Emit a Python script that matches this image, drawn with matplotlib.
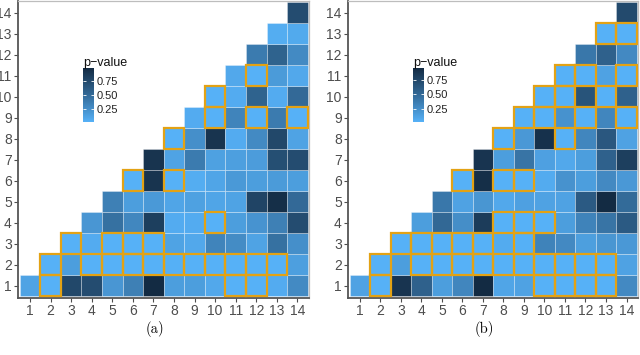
import matplotlib.pyplot as plt
from matplotlib.colors import LinearSegmentedColormap, Normalize
from matplotlib.patches import Rectangle
import matplotlib.cm as cm

plt.rcParams['font.family'] = ['Liberation Sans', 'DejaVu Sans']

ticks = list(range(1, 15))
cbar_ticks = [0.25, 0.50, 0.75]
cbar_labels = ['0.25', '0.50', '0.75']

# p-values, one list per row y = 1..14, columns x = y..14
pval_a = [
    [0.12, 0.02, 0.75, 0.72, 0.20, 0.35, 0.97, 0.15, 0.15, 0.08, 0.02, 0.02, 0.06, 0.28],
    [0.02, 0.15, 0.02, 0.02, 0.02, 0.02, 0.03, 0.02, 0.02, 0.02, 0.02, 0.02, 0.14],
    [0.02, 0.06, 0.02, 0.02, 0.02, 0.12, 0.08, 0.32, 0.27, 0.12, 0.45, 0.25],
    [0.20, 0.45, 0.30, 0.82, 0.06, 0.06, 0.02, 0.15, 0.22, 0.35, 0.72],
    [0.35, 0.15, 0.18, 0.10, 0.13, 0.10, 0.12, 0.78, 0.94, 0.50],
    [0.02, 0.90, 0.02, 0.05, 0.10, 0.18, 0.15, 0.17, 0.15],
    [0.90, 0.12, 0.38, 0.13, 0.14, 0.16, 0.70, 0.72],
    [0.02, 0.25, 0.90, 0.06, 0.28, 0.75, 0.12],
    [0.06, 0.02, 0.32, 0.02, 0.38, 0.02],
    [0.02, 0.06, 0.55, 0.06, 0.50],
    [0.08, 0.02, 0.17, 0.08],
    [0.38, 0.55, 0.28],
    [0.05, 0.07],
    [0.72],
]
# highlighted cells: x values per row
sig_a = [
    [2, 11, 12],
    [2, 4, 5, 6, 7, 8, 9, 10, 11, 12, 13],
    [3, 5, 6, 7],
    [10],
    [],
    [6, 8],
    [],
    [8],
    [10, 12, 14],
    [10],
    [12],
    [],
    [],
    [],
]

pval_b = [
    [0.12, 0.02, 0.88, 0.55, 0.15, 0.30, 0.95, 0.10, 0.12, 0.02, 0.02, 0.02, 0.02, 0.28],
    [0.02, 0.15, 0.02, 0.02, 0.02, 0.02, 0.02, 0.02, 0.02, 0.02, 0.02, 0.02, 0.12],
    [0.02, 0.02, 0.02, 0.02, 0.02, 0.06, 0.03, 0.32, 0.28, 0.14, 0.20, 0.18],
    [0.15, 0.50, 0.25, 0.82, 0.02, 0.02, 0.02, 0.15, 0.32, 0.42, 0.60],
    [0.40, 0.12, 0.20, 0.08, 0.13, 0.12, 0.12, 0.60, 0.95, 0.48],
    [0.02, 0.92, 0.02, 0.02, 0.06, 0.22, 0.15, 0.28, 0.18],
    [0.88, 0.15, 0.42, 0.13, 0.08, 0.15, 0.55, 0.80],
    [0.02, 0.18, 0.90, 0.02, 0.30, 0.62, 0.12],
    [0.02, 0.02, 0.22, 0.02, 0.30, 0.02],
    [0.02, 0.02, 0.65, 0.02, 0.55],
    [0.02, 0.02, 0.12, 0.02],
    [0.40, 0.55, 0.28],
    [0.02, 0.02],
    [0.72],
]
sig_b = [
    [2, 10, 11, 12, 13],
    [2, 4, 5, 6, 7, 8, 9, 10, 11, 12, 13],
    [3, 4, 5, 6, 7, 9],
    [8, 9, 10],
    [],
    [6, 8, 9],
    [],
    [8, 11],
    [9, 10, 12, 14],
    [10, 11, 13],
    [11, 12, 14],
    [],
    [13, 14],
    [],
]

cmap = LinearSegmentedColormap.from_list('pv', ['#56B1F7', '#336A98', '#132B43'])
W, H = 640, 355


def draw_panel(fig, left, right, cbar_left, pvals, sig, label, label_x):
    top, bottom = 1, 297.7
    ax = fig.add_axes([left / W, 1 - bottom / H, (right - left) / W, (bottom - top) / H])
    vmin = min(min(r) for r in pvals)
    vmax = max(max(r) for r in pvals)
    norm = Normalize(vmin, vmax)
    for i, row in enumerate(pvals):
        y = i + 1
        for j, p in enumerate(row):
            x = y + j
            ax.add_patch(Rectangle((x - 0.5, y - 0.5), 1, 1, facecolor=cmap(norm(p)),
                                   edgecolor=(1, 1, 1, 0.35), lw=0.6))
    for i, xs in enumerate(sig):
        y = i + 1
        for x in xs:
            ax.add_patch(Rectangle((x - 0.5, y - 0.5), 1, 1, fill=False,
                                   edgecolor='#E3A214', lw=1.6, zorder=3))
    ax.set_xlim(0.42, 14.56)
    ax.set_ylim(0.42, 14.56)
    ax.set_xticks(ticks)
    ax.set_yticks(ticks)
    ax.tick_params(labelsize=10, colors='#4D4D4D', length=3, width=0.8, pad=1.5)
    for s in ['top', 'right']:
        ax.spines[s].set_color('#BDBDBD')
        ax.spines[s].set_linewidth(0.9)
    for s in ['left', 'bottom']:
        ax.spines[s].set_color('#555555')
        ax.spines[s].set_linewidth(1.3)

    # colour bar legend inside the panel
    cax = fig.add_axes([cbar_left / W, 1 - 122 / H, 11 / W, 54 / H])
    cb = fig.colorbar(cm.ScalarMappable(norm=norm, cmap=cmap), cax=cax)
    cb.outline.set_visible(False)
    cb.set_ticks(cbar_ticks)
    cb.set_ticklabels(cbar_labels)
    cax.tick_params(direction='in', color='white', length=2.2, width=0.6,
                    left=True, right=True, labelsize=8, labelcolor='#222222', pad=2)
    fig.text(cbar_left / W, 1 - 66 / H, 'p−value', fontsize=9, color='#111111',
             va='baseline', ha='left')

    fig.text(label_x / W, 1 - 329 / H, label, fontfamily='cmr10', fontsize=10.5,
             ha='center', va='center')


fig = plt.figure(figsize=(6.4, 3.55), dpi=100)
draw_panel(fig, 18, 309, 83, pval_a, sig_a, '(a)', 154.5)
draw_panel(fig, 348, 638, 413, pval_b, sig_b, '(b)', 484)
fig.savefig('out.png', dpi=100)
